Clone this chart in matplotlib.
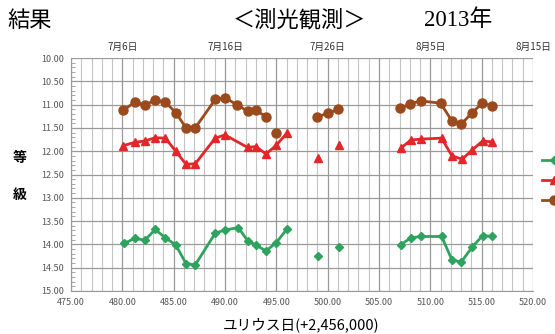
# 測光観測の結果 (2013年) の光度曲線
import numpy as np
import matplotlib.pyplot as plt
from matplotlib.ticker import MultipleLocator, FormatStrFormatter

nan = np.nan

# ユリウス日 (+2,456,000) と等級, nan のところで線を切る
jd_brown = [480.1, 481.2, 482.2, 483.2, 484.2, 485.2, 486.2, 487.1, 489.05, 490.0,
            491.2, 492.2, 493.0, 494.0, nan, 495.0, nan, 499.0, 500.0, 501.0, nan,
            507.0, 508.0, 509.05, 511.0, 512.1, 513.0, 514.1, 515.05, 516.0]
mag_brown = [11.12, 10.95, 11.01, 10.90, 10.95, 11.17, 11.50, 11.50, 10.89, 10.85,
             11.01, 11.14, 11.12, 11.26, nan, 11.60, nan, 11.26, 11.19, 11.10, nan,
             11.08, 10.99, 10.92, 10.97, 11.35, 11.42, 11.17, 10.97, 11.03]

jd_red = [480.1, 481.2, 482.2, 483.2, 484.2, 485.2, 486.2, 487.1, 489.05, 490.0,
          492.2, 493.0, 494.0, 495.0, 496.0, nan, 499.1, nan, 501.1, nan,
          507.1, 508.1, 509.1, 511.1, 512.1, 513.1, 514.1, 515.1, 516.0]
mag_red = [11.88, 11.81, 11.78, 11.71, 11.72, 12.00, 12.28, 12.27, 11.72, 11.65,
           11.92, 11.90, 12.06, 11.87, 11.62, nan, 12.14, nan, 11.87, nan,
           11.94, 11.76, 11.74, 11.72, 12.10, 12.17, 11.97, 11.78, 11.80]

jd_green = [480.2, 481.2, 482.2, 483.2, 484.2, 485.2, 486.2, 487.1, 489.05, 490.0,
            491.3, 492.2, 493.0, 494.0, 495.0, 496.0, nan, 499.1, nan, 501.1, nan,
            507.1, 508.1, 509.1, 511.1, 512.1, 513.0, 514.1, 515.1, 516.0]
mag_green = [13.98, 13.87, 13.91, 13.68, 13.86, 14.01, 14.41, 14.44, 13.76, 13.69,
             13.64, 13.92, 14.01, 14.14, 13.96, 13.68, nan, 14.24, nan, 14.06, nan,
             14.01, 13.86, 13.83, 13.83, 14.33, 14.38, 14.05, 13.81, 13.83]

date_ticks = [480, 490, 500, 510, 520]
date_labels = ['7月6日', '7月16日', '7月26日', '8月5日', '8月15日']

jp = ['Noto Sans CJK JP', 'DejaVu Sans']
plt.rcParams['font.family'] = jp

fig = plt.figure(figsize=(5.55, 3.34), dpi=100)
ax = fig.add_axes([71 / 555, 43 / 334, 462 / 555, 233 / 334])

c_brown = '#9a4a1c'
c_red = '#e3262a'
c_green = '#2ea35e'

l_green, = ax.plot(jd_green, mag_green, color=c_green, lw=2, marker='D', ms=4.5)
l_red, = ax.plot(jd_red, mag_red, color=c_red, lw=2, marker='^', ms=6)
l_brown, = ax.plot(jd_brown, mag_brown, color=c_brown, lw=2, marker='o', ms=6.5)

ax.set_xlim(475, 520)
ax.set_ylim(15, 10)
ax.xaxis.set_major_locator(MultipleLocator(5))
ax.xaxis.set_minor_locator(MultipleLocator(1))
ax.yaxis.set_major_locator(MultipleLocator(0.5))
ax.yaxis.set_minor_locator(MultipleLocator(0.1))
ax.xaxis.set_major_formatter(FormatStrFormatter('%.2f'))
ax.yaxis.set_major_formatter(FormatStrFormatter('%.2f'))
ax.grid(which='major', color='#9a9a9a', lw=0.9)
ax.grid(which='minor', axis='x', color='#c4c4c4', lw=0.8)
ax.set_axisbelow(True)
ax.tick_params(which='both', labelsize=6.5, labelcolor='#555555', color='#999999')
ax.tick_params(which='major', length=0, pad=5)
ax.tick_params(axis='x', which='minor', length=0)
ax.tick_params(axis='y', which='minor', length=3, direction='in')
for s in ['top', 'right']:
    ax.spines[s].set_visible(False)
for s in ['left', 'bottom']:
    ax.spines[s].set_color('#999999')

# 上の軸に日付
top = ax.secondary_xaxis('top')
top.set_xticks(date_ticks, date_labels)
top.tick_params(length=0, labelsize=7, labelcolor='#333333', pad=4)
top.spines['top'].set_visible(False)

# タイトル
fig.text(30 / 555, 1 - 20 / 334, '結果', fontsize=16, va='center', ha='center')
fig.text(299 / 555, 1 - 20 / 334, '＜測光観測＞', fontsize=16, va='center', ha='center')
fig.text(458 / 555, 1 - 20 / 334, '2013年', fontsize=16.5, va='center', ha='center',
         family=['Liberation Serif', 'Noto Sans CJK JP'])

fig.text(20 / 555, 1 - 158 / 334, '等', fontsize=10, va='center', ha='center', weight='bold')
fig.text(20 / 555, 1 - 195 / 334, '級', fontsize=10, va='center', ha='center', weight='bold')
fig.text(301 / 555, 1 - 325 / 334, 'ユリウス日(+2,456,000)', fontsize=10.5, va='center', ha='center')

# 凡例は右端で切れている
fig.legend([l_green, l_red, l_brown], ['', '', ''],
           loc='upper left', bbox_to_anchor=(532 / 555, 1 - 146 / 334),
           frameon=False, fontsize=8, handlelength=2.2, labelspacing=0.9)

fig.savefig('out.png', dpi=100)
